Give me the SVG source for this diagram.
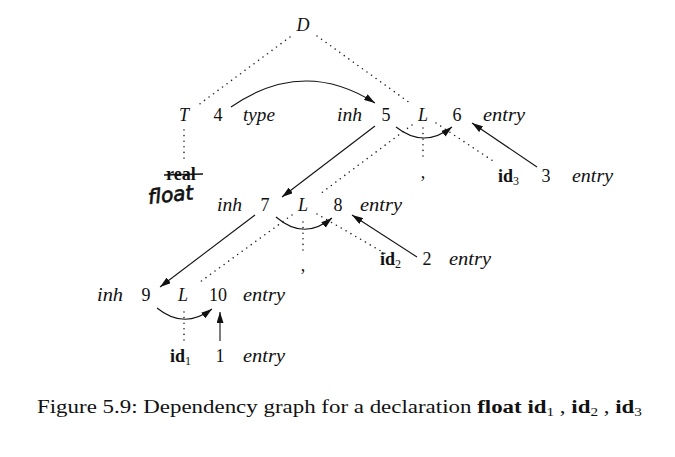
<svg xmlns="http://www.w3.org/2000/svg" width="675" height="457" viewBox="0 0 675 457">
<defs>
<style>
text{font-family:"Liberation Serif","Times New Roman",serif;font-size:18px;fill:#111}
.it{font-style:italic}
.m{text-anchor:middle}
.b{font-weight:bold}
.sub{font-size:12px;font-weight:normal}
.dot{stroke:#222;stroke-width:1.6;stroke-linecap:round;stroke-dasharray:0 5.6;fill:none}
.arr{stroke:#111;stroke-width:1.1;fill:none;marker-end:url(#ah)}
.cap{font-size:18px}
.hand{font-family:"DejaVu Sans",sans-serif;font-size:20px;font-style:italic;stroke:#111;stroke-width:0.7}
</style>
<marker id="ah" markerUnits="userSpaceOnUse" markerWidth="11" markerHeight="7" refX="11" refY="3.5" orient="auto">
<path d="M0,0 L11,3.5 L0,7 z" fill="#111"/>
</marker>
</defs>
<rect width="675" height="457" fill="#fff"/>

<g id="connectors">
<line class="dot" x1="290" y1="37" x2="197" y2="106"/>
<line class="dot" x1="317" y1="36" x2="410" y2="103"/>
<line class="dot" x1="184" y1="130" x2="184" y2="160"/>
<line class="dot" x1="412" y1="125" x2="320" y2="194"/>
<line class="dot" x1="423" y1="128" x2="423" y2="160"/>
<line class="dot" x1="436" y1="123" x2="496" y2="163"/>
<line class="dot" x1="292" y1="215" x2="200" y2="282"/>
<line class="dot" x1="303" y1="222" x2="303" y2="252"/>
<line class="dot" x1="317" y1="214" x2="386" y2="254"/>
<line class="dot" x1="184" y1="312" x2="184" y2="340"/>

<path class="arr" d="M231,107 Q303,57 375,103"/>
<path class="arr" d="M375,126 L282,197"/>
<path class="arr" d="M396,127 Q424,149 452,127"/>
<path class="arr" d="M537,167 L472,123"/>
<path class="arr" d="M255,215 L160,287"/>
<path class="arr" d="M276,217 Q304,241 332,218"/>
<path class="arr" d="M417,257 L352,215"/>
<path class="arr" d="M157,308 Q184,330 212,309"/>
<path class="arr" d="M220,341 L220,312"/>
</g>

<g id="node-D"><text class="it m" x="303" y="31">D</text></g>
<g id="node-T"><text class="it m" x="184" y="121">T</text></g>
<g id="node-4"><text class="m" x="218" y="121">4</text><text class="it" x="243" y="121" textLength="32" lengthAdjust="spacingAndGlyphs">type</text></g>
<g id="node-5"><text class="it" x="337" y="121" textLength="25" lengthAdjust="spacingAndGlyphs">inh</text><text class="m" x="386" y="121">5</text></g>
<g id="node-L1"><text class="it m" x="423" y="121">L</text></g>
<g id="node-6"><text class="m" x="457" y="121">6</text><text class="it" x="483" y="121" textLength="42" lengthAdjust="spacingAndGlyphs">entry</text></g>
<g id="node-comma1"><text class="m" x="423" y="178">,</text></g>
<g id="node-id3"><text x="498" y="182"><tspan class="b">id</tspan><tspan class="sub" dy="3">3</tspan></text></g>
<g id="node-3"><text class="m" x="546" y="182">3</text><text class="it" x="572" y="182" textLength="41" lengthAdjust="spacingAndGlyphs">entry</text></g>

<g id="node-float">
<text class="b" x="166" y="180" font-size="14">real</text>
<line x1="164" y1="175" x2="203" y2="174" stroke="#111" stroke-width="1.5"/>
<text class="hand" x="148" y="201" transform="rotate(-6 176 195)">float</text>
</g>

<g id="node-7"><text class="it" x="217" y="211" textLength="25" lengthAdjust="spacingAndGlyphs">inh</text><text class="m" x="265" y="211">7</text></g>
<g id="node-L2"><text class="it m" x="303" y="211">L</text></g>
<g id="node-8"><text class="m" x="338" y="211">8</text><text class="it" x="360" y="211" textLength="42" lengthAdjust="spacingAndGlyphs">entry</text></g>
<g id="node-comma2"><text class="m" x="303" y="271">,</text></g>
<g id="node-id2"><text x="380" y="265"><tspan class="b">id</tspan><tspan class="sub" dy="3">2</tspan></text></g>
<g id="node-2"><text class="m" x="427" y="265">2</text><text class="it" x="449" y="265" textLength="42" lengthAdjust="spacingAndGlyphs">entry</text></g>

<g id="node-9"><text class="it" x="97" y="301" textLength="26" lengthAdjust="spacingAndGlyphs">inh</text><text class="m" x="146" y="301">9</text></g>
<g id="node-L3"><text class="it m" x="183" y="301">L</text></g>
<g id="node-10"><text class="m" x="218" y="301">10</text><text class="it" x="243" y="301" textLength="42" lengthAdjust="spacingAndGlyphs">entry</text></g>
<g id="node-id1"><text x="170" y="362"><tspan class="b">id</tspan><tspan class="sub" dy="3">1</tspan></text></g>
<g id="node-1"><text class="m" x="220" y="362">1</text><text class="it" x="243" y="362" textLength="42" lengthAdjust="spacingAndGlyphs">entry</text></g>

<g id="caption">
<text class="cap" x="37" y="413" textLength="605" lengthAdjust="spacingAndGlyphs">Figure 5.9: Dependency graph for a declaration <tspan class="b">float id</tspan><tspan class="sub" dy="3">1</tspan><tspan dy="-3"> , </tspan><tspan class="b">id</tspan><tspan class="sub" dy="3">2</tspan><tspan dy="-3"> , </tspan><tspan class="b">id</tspan><tspan class="sub" dy="3">3</tspan></text>
</g>
</svg>
